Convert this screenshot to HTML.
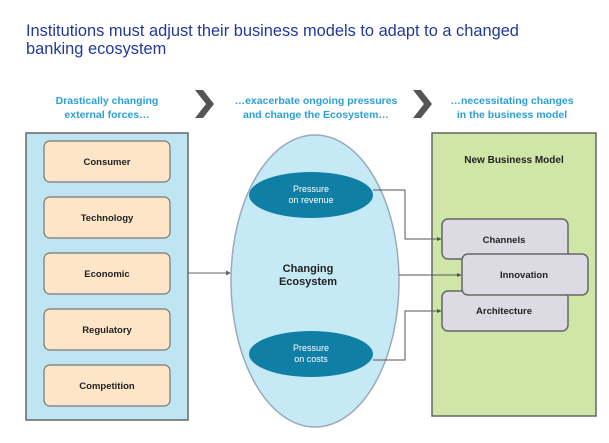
<!DOCTYPE html>
<html><head><style>body{margin:0;background:#fff}</style></head><body>
<svg width="609" height="438" xmlns="http://www.w3.org/2000/svg" font-family="Liberation Sans, sans-serif">
<text x="26" y="36" font-size="16.4" fill="#23399a">Institutions must adjust their business models to adapt to a changed</text>
<text x="26" y="54" font-size="16.4" fill="#23399a">banking ecosystem</text>
<g font-size="10.5" font-weight="bold" fill="#2aa0d8" text-anchor="middle">
<text x="107" y="104">Drastically changing</text>
<text x="107" y="118">external forces…</text>
<text x="316" y="104">…exacerbate  ongoing pressures</text>
<text x="316" y="118">and change the Ecosystem…</text>
<text x="512" y="104">…necessitating changes</text>
<text x="512" y="118">in the business model</text>
</g>
<polygon points="195,90 203,90 214,104 203,118 195,118 206,104" fill="#555"/>
<polygon points="413,90 421,90 432,104 421,118 413,118 424,104" fill="#555"/>
<rect x="26" y="133" width="162" height="287" fill="#bfe4f2" stroke="#666" stroke-width="1.5"/>
<g fill="#fde6c8" stroke="#777" stroke-width="1.2">
<rect x="44" y="141" width="126" height="41" rx="6"/>
<rect x="44" y="197" width="126" height="41" rx="6"/>
<rect x="44" y="253" width="126" height="41" rx="6"/>
<rect x="44" y="309" width="126" height="41" rx="6"/>
<rect x="44" y="365" width="126" height="41" rx="6"/>
</g>
<g font-size="9.5" font-weight="bold" fill="#222" text-anchor="middle">
<text x="107" y="165">Consumer</text>
<text x="107" y="221">Technology</text>
<text x="107" y="277">Economic</text>
<text x="107" y="333">Regulatory</text>
<text x="107" y="389">Competition</text>
</g>
<line x1="188" y1="273" x2="229" y2="273" stroke="#666"/>
<polygon points="231,273 226,270.5 226,275.5" fill="#666"/>
<ellipse cx="315" cy="281" rx="84" ry="146" fill="#c5e9f5" stroke="#9ab" stroke-width="1.5"/>
<ellipse cx="311" cy="195" rx="62" ry="23" fill="#0f7fa6"/>
<ellipse cx="311" cy="354" rx="62" ry="23" fill="#0f7fa6"/>
<g font-size="9" fill="#fff" text-anchor="middle">
<text x="311" y="192">Pressure</text><text x="311" y="203">on revenue</text>
<text x="311" y="351">Pressure</text><text x="311" y="362">on costs</text>
</g>
<g font-size="11" font-weight="bold" fill="#222" text-anchor="middle">
<text x="308" y="272">Changing</text><text x="308" y="285">Ecosystem</text>
</g>
<rect x="432" y="133" width="164" height="283" fill="#cfe6a8" stroke="#666" stroke-width="1.5"/>
<text x="514" y="163" font-size="10" font-weight="bold" fill="#222" text-anchor="middle">New Business Model</text>
<g fill="none" stroke="#555">
<polyline points="373,190 405,190 405,239 440,239"/>
<polyline points="399,275 460,275"/>
<polyline points="373,360 405,360 405,311 440,311"/>
</g>
<g fill="#555">
<polygon points="442,239 437,237 437,241"/>
<polygon points="462,275 457,273 457,277"/>
<polygon points="442,311 437,309 437,313"/>
</g>
<g fill="#dcdbe3" stroke="#666" stroke-width="1.5">
<rect x="442" y="219" width="126" height="40" rx="6"/>
<rect x="442" y="291" width="126" height="40" rx="6"/>
<rect x="462" y="254" width="126" height="41" rx="6"/>
</g>
<g font-size="9.5" font-weight="bold" fill="#222" text-anchor="middle">
<text x="504" y="243">Channels</text>
<text x="524" y="278">Innovation</text>
<text x="504" y="314">Architecture</text>
</g>
</svg>
</body></html>
